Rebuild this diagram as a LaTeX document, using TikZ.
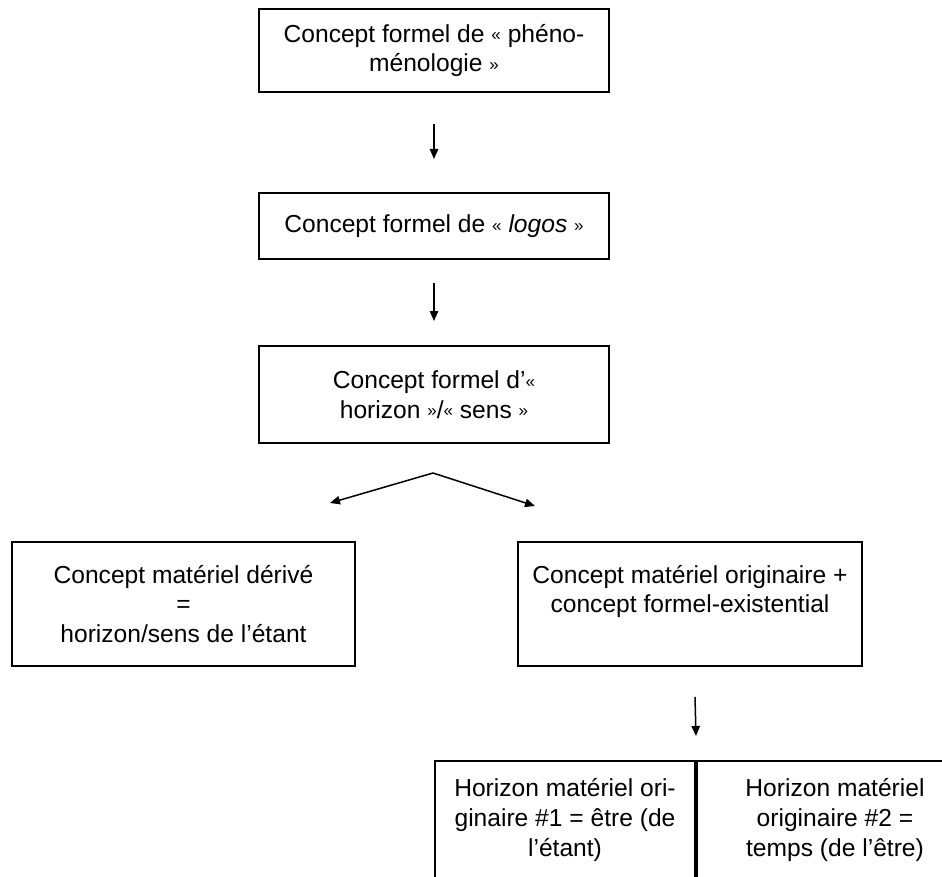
\documentclass[tikz,border=0pt]{standalone}
\usepackage{fontspec}
\setmainfont{Liberation Sans}
\usetikzlibrary{arrows.meta}

% small guillemets as in the original
\newcommand{\gouv}{{\fontsize{8.5pt}{8.5pt}\selectfont\raisebox{0.6pt}{«}}}
\newcommand{\gferm}{{\fontsize{8.5pt}{8.5pt}\selectfont\raisebox{0.6pt}{»}}}

\tikzset{
  box/.style={draw, line width=1pt, align=center, inner sep=0pt,
    font=\fontsize{12.3pt}{14.9pt}\selectfont},
  arr/.style={line width=0.75pt, -{Triangle[length=5pt,width=4.2pt]}},
}

\begin{document}
\begin{tikzpicture}[x=0.5pt, y=-0.5pt]
\useasboundingbox (0,0) rectangle (942,877);
% chain of formal concepts
\node[box, minimum width=175pt, minimum height=41.5pt] at (434,50.5) (phen) {Concept formel de \gouv{} phéno-\\ménologie \gferm};
\node[box, minimum width=175pt, minimum height=33pt] at (434,226) (logos) {Concept formel de \gouv{} \textit{logos} \gferm};
\node[box, minimum width=175pt, minimum height=48.5pt] at (434,394.5) (horiz) {Concept formel d’\gouv\\horizon \gferm/\gouv{} sens \gferm};
% material concepts
\node[box, minimum width=171.5pt, minimum height=62pt] at (183.5,604) (deriv) {Concept matériel dérivé\\=\\horizon/sens de l’étant};
\node[box, minimum width=172pt, minimum height=62pt] at (690,604) (orig) {Concept matériel originaire +\\concept formel-existential\rule[-15pt]{0pt}{0pt}};
% original horizons
\node[box, minimum width=130pt, minimum height=59pt] at (565,820) (hz1) {Horizon matériel ori-\\ginaire \#1 = être (de\\l’étant)};
\node[box, minimum width=140pt, minimum height=59pt] at (835,820) (hz2) {Horizon matériel\\originaire \#2 =\\temps (de l’être)};
\draw[line width=1.6pt] (hz1.north east) -- (hz1.south east);

\coordinate (fork) at (433,473);
\coordinate (forkL) at (330,503);
\coordinate (forkR) at (535,506);
\coordinate (a3) at (695,697);

\draw[arr] ([yshift=-15.5pt]phen.south) -- ([yshift=16.5pt]logos.north);
\draw[arr] ([yshift=-11.5pt]logos.south) -- ([yshift=12pt]horiz.north);
\draw[arr] (fork) -- (forkL);
\draw[arr] (fork) -- (forkR);
\draw[arr] (a3) -- ([yshift=12pt]hz1.north east);
\end{tikzpicture}
\end{document}
